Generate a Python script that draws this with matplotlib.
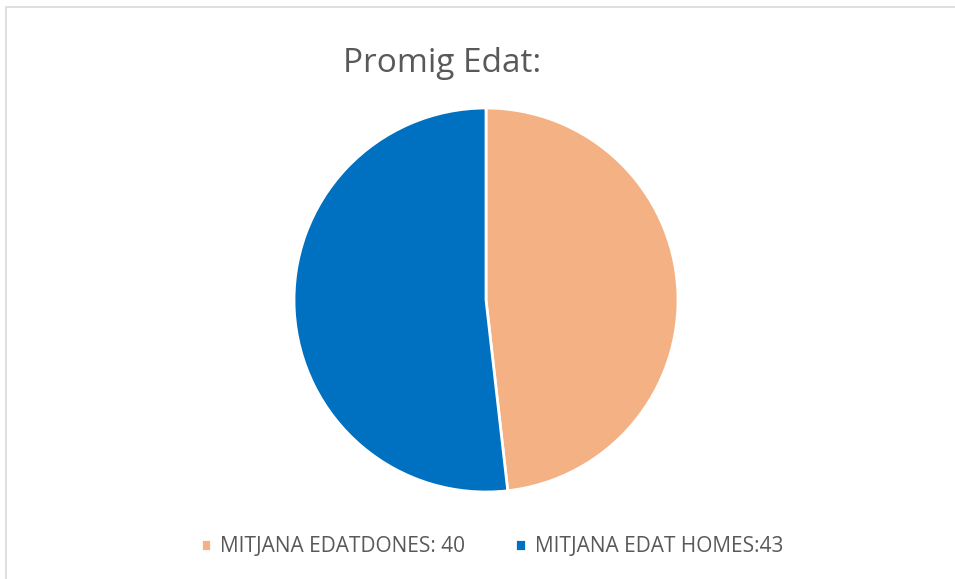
import matplotlib
matplotlib.use("Agg")
import matplotlib.pyplot as plt
from matplotlib.patches import Rectangle

labels = ["MITJANA EDATDONES: 40", "MITJANA EDAT HOMES:43"]
values = [40, 43]
colors = ["#F4B183", "#0070C0"]
title = "Promig Edat:"

W, H = 955, 579
fig = plt.figure(figsize=(W / 100, H / 100), dpi=100)
fig.patch.set_facecolor("white")

# border
fig.patches.append(Rectangle((6 / W, -0.05), 1.1, 1 - 7 / H + 0.05, transform=fig.transFigure,
                             fill=False, edgecolor="#D9D9D9", linewidth=1.2))

cx, cy, r = 486, 300, 192
ax = fig.add_axes([(cx - r) / W, (H - cy - r) / H, 2 * r / W, 2 * r / H])
wedges, _ = ax.pie(values, colors=colors, startangle=90, counterclock=False,
                   wedgeprops=dict(edgecolor="white", linewidth=2))
ax.set_xlim(-1.0, 1.0)
ax.set_ylim(-1.0, 1.0)
ax.set_aspect("equal")
ax.axis("off")

fig.text(442 / W, 1 - 63 / H, title, ha="center", va="center", fontsize=24,
         color="#595959", family="Open Sans")

leg = fig.legend(wedges, labels, loc="center", bbox_to_anchor=(492 / W, 1 - 547 / H), ncol=2,
                 frameon=False, handlelength=0.5, handleheight=0.5, handletextpad=0.45,
                 columnspacing=2.4, prop=dict(family="Open Sans", size=15))
for t in leg.get_texts():
    t.set_color("#595959")

fig.savefig("out.png", dpi=100, facecolor="white")
